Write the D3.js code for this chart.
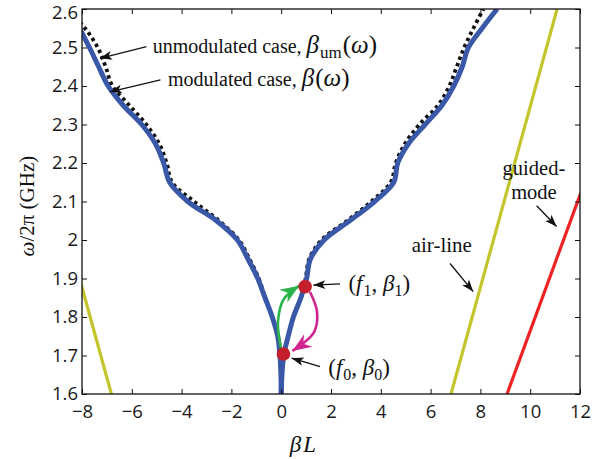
<!DOCTYPE html>
<html>
<head>
<meta charset="utf-8">
<script src="https://cdn.jsdelivr.net/npm/d3@7"></script>
<style>
  html, body { margin: 0; padding: 0; background: #fff; }
  svg { display: block; }
  .tick text { font-family: "Open Sans", sans-serif; font-size: 18.5px; fill: #1a1a1a; }
  .serif { font-family: "Liberation Serif", "DejaVu Serif", serif; fill: #111; }
</style>
</head>
<body>
<svg id="chart" width="608" height="459"></svg>
<script>
// Frequency samples (GHz) for the dispersion branches
const freq = [1.60, 1.65, 1.70, 1.75, 1.80, 1.85, 1.90, 1.95, 2.00, 2.05, 2.10,
              2.15, 2.20, 2.25, 2.30, 2.35, 2.40, 2.45, 2.50, 2.55, 2.60];

// Modulated case beta*L, negative and positive branches
const betaModLeft  = [0.00, -0.01, -0.05, -0.14, -0.36, -0.65, -0.94, -1.33, -1.76, -2.60, -3.75,
                      -4.48, -4.72, -5.05, -5.60, -6.35, -6.95, -7.33, -7.70, -8.10, -8.50];
const betaModRight = [0.00, 0.03, 0.10, 0.28, 0.49, 0.79, 1.02, 1.17, 1.72, 2.75, 3.75,
                      4.52, 4.68, 5.11, 5.78, 6.46, 6.93, 7.27, 7.52, 8.07, 8.67];

// Unmodulated case beta*L
const betaUmLeft   = [0.00, -0.01, -0.05, -0.14, -0.36, -0.65, -0.90, -1.27, -1.70, -2.50, -3.50,
                      -4.38, -4.60, -4.90, -5.42, -6.10, -6.78, -7.05, -7.37, -7.88, -8.60];
const betaUmRight  = [0.00, 0.03, 0.10, 0.28, 0.49, 0.79, 0.98, 1.12, 1.62, 2.65, 3.62,
                      4.40, 4.60, 4.97, 5.55, 6.30, 6.75, 7.05, 7.35, 7.72, 8.12];

// Straight lines: air-line and guided mode (beta*L at two frequencies)
const lineFreq   = [1.60, 2.60];
const airLine    = [6.82, 11.08];
const guidedLine = [9.07, 14.74];

// Operating points (beta*L, GHz)
const pointBeta = [0.09, 0.96];
const pointFreq = [1.704, 1.879];

// Axis ticks
const xTicks = [-8, -6, -4, -2, 0, 2, 4, 6, 8, 10, 12];
const yTicks = [1.6, 1.7, 1.8, 1.9, 2.0, 2.1, 2.2, 2.3, 2.4, 2.5, 2.6];

// Transition arrows between the operating points (beta*L, GHz)
const upArrow   = [[-0.01, 1.719], [-0.13, 1.787], [0.10, 1.846], [0.72, 1.881]];
const downArrow = [[1.16, 1.865], [1.44, 1.813], [1.32, 1.761], [0.45, 1.712]];

const svg = d3.select("#chart");
const L = 82, R = 580, T = 9, B = 394;
const x = d3.scaleLinear().domain([-8, 12]).range([L, R]);
const y = d3.scaleLinear().domain([1.6, 2.6]).range([B, T]);

const defs = svg.append("defs");
defs.append("clipPath").attr("id", "plot")
  .append("rect").attr("x", L).attr("y", T).attr("width", R - L).attr("height", B - T);

function marker(id, color, len, half, notch) {
  defs.append("marker")
    .attr("id", id)
    .attr("markerUnits", "userSpaceOnUse")
    .attr("viewBox", `${-len - 1} ${-half - 1} ${len + 2} ${2 * half + 2}`)
    .attr("markerWidth", len + 2).attr("markerHeight", 2 * half + 2)
    .attr("refX", 0).attr("refY", 0)
    .attr("orient", "auto")
    .append("path")
    .attr("d", `M0,0 L${-len},${-half} L${-len + notch},0 L${-len},${half} Z`)
    .attr("fill", color);
}
marker("headBlack", "#111", 12, 4.4, 3);
marker("headGreen", "#2cb34a", 19, 7.5, 6);
marker("headMagenta", "#d0258f", 19, 7.5, 6);

const zip = (bs) => bs.map((b, i) => ({ b, f: freq[i] }));
const line = d3.line().x(d => x(d.b)).y(d => y(d.f)).curve(d3.curveCatmullRom.alpha(0.5));

const plot = svg.append("g").attr("clip-path", "url(#plot)");

// Air-line (both signs) and guided mode
const straight = (bs) => bs.map((b, i) => ({ b, f: lineFreq[i] }));
plot.append("path").attr("d", line(straight(airLine)))
  .attr("stroke", "#c4c42c").attr("stroke-width", 3.2).attr("fill", "none");
plot.append("path").attr("d", line(straight(airLine.map(v => -v))))
  .attr("stroke", "#c4c42c").attr("stroke-width", 3.2).attr("fill", "none");
plot.append("path").attr("d", line(straight(guidedLine)))
  .attr("stroke", "#ef2324").attr("stroke-width", 3.2).attr("fill", "none");

// Unmodulated dispersion (dotted, underneath)
[betaUmLeft, betaUmRight].forEach(bs => {
  plot.append("path").attr("d", line(zip(bs)))
    .attr("stroke", "#111").attr("stroke-width", 3.8)
    .attr("stroke-dasharray", "3.4,3.4").attr("fill", "none");
});

// Modulated dispersion
[betaModLeft, betaModRight].forEach(bs => {
  plot.append("path").attr("d", line(zip(bs)))
    .attr("stroke", "#3a58a8").attr("stroke-width", 5).attr("fill", "none")
    .attr("stroke-linejoin", "round");
});

// Transition arrows
const arrowLine = d3.line().x(d => x(d[0])).y(d => y(d[1])).curve(d3.curveCatmullRom.alpha(0.5));
svg.append("path").attr("d", arrowLine(upArrow))
  .attr("stroke", "#2cb34a").attr("stroke-width", 2.6).attr("fill", "none")
  .attr("marker-end", "url(#headGreen)");
svg.append("path").attr("d", arrowLine(downArrow))
  .attr("stroke", "#d0258f").attr("stroke-width", 2.6).attr("fill", "none")
  .attr("marker-end", "url(#headMagenta)");

// Operating points
svg.selectAll("circle.pt").data(pointBeta).join("circle")
  .attr("class", "pt")
  .attr("cx", d => x(d)).attr("cy", (d, i) => y(pointFreq[i]))
  .attr("r", 6.8).attr("fill", "#c41f2b");

// Axes with inward ticks on all sides
const fmtY = d => String(+d.toFixed(1));
svg.append("g").attr("transform", `translate(0,${B})`)
  .call(d3.axisBottom(x).tickValues(xTicks).tickSizeInner(-5).tickSizeOuter(0).tickPadding(10.5));
const yAxis = svg.append("g").attr("transform", `translate(${L},0)`)
  .call(d3.axisLeft(y).tickValues(yTicks).tickFormat(fmtY).tickSizeInner(-5).tickSizeOuter(0).tickPadding(4));
// keep the top label inside the frame
yAxis.selectAll(".tick").filter(d => d === 2.6).select("text").attr("dy", "0.52em");
svg.append("g").attr("transform", `translate(0,${T})`)
  .call(d3.axisTop(x).tickValues(xTicks).tickFormat("").tickSizeInner(-5).tickSizeOuter(0));
svg.append("g").attr("transform", `translate(${R},0)`)
  .call(d3.axisRight(y).tickValues(yTicks).tickFormat("").tickSizeInner(-5).tickSizeOuter(0));
svg.selectAll(".domain").remove();
svg.selectAll(".tick line").attr("stroke", "#111").attr("stroke-width", 1);
svg.append("rect").attr("x", L).attr("y", T).attr("width", R - L).attr("height", B - T)
  .attr("fill", "none").attr("stroke", "#111").attr("stroke-width", 1.3);

// Axis titles
const xt = svg.append("text").attr("class", "serif")
  .attr("x", x(0.87)).attr("y", 452).attr("text-anchor", "middle").attr("font-size", 23);
xt.append("tspan").attr("font-style", "italic").text("β");
xt.append("tspan").attr("font-style", "italic").attr("dx", 2).text("L");

const yt = svg.append("text").attr("class", "serif")
  .attr("transform", `translate(34,${y(2.088)}) rotate(-90)`)
  .attr("text-anchor", "middle").attr("font-size", 21);
yt.append("tspan").attr("font-style", "italic").text("ω");
yt.append("tspan").text("/2π (GHz)");

// Annotations
function pointer(from, to) {
  svg.append("line")
    .attr("x1", x(from[0])).attr("y1", y(from[1]))
    .attr("x2", x(to[0])).attr("y2", y(to[1]))
    .attr("stroke", "#111").attr("stroke-width", 1.3)
    .attr("marker-end", "url(#headBlack)");
}

// parts: t = text, i = italic, m = math size, sub = subscript
function label(pos, parts, opts) {
  opts = opts || {};
  const base = opts.size || 20, math = opts.math || 25, sub = opts.sub || 17;
  const t = svg.append("text").attr("class", "serif")
    .attr("x", x(pos[0])).attr("y", y(pos[1])).attr("font-size", base)
    .attr("text-anchor", opts.anchor || "start");
  let lowered = false;
  parts.forEach(p => {
    const s = t.append("tspan").text(p.t);
    if (p.i) s.attr("font-style", "italic");
    if (p.m) s.attr("font-size", math);
    if (p.sub) {
      s.attr("font-size", sub).attr("dy", 5);
      lowered = true;
    } else if (lowered) {
      s.attr("dy", -5);
      lowered = false;
    }
    if (p.dx) s.attr("dx", p.dx);
  });
  return t;
}

pointer([-5.41, 2.502], [-7.28, 2.472]);
label([-5.16, 2.485], [
  { t: "unmodulated case, " }, { t: "β", i: true, m: true }, { t: "um", sub: true, dx: 1 },
  { t: "(", m: true, dx: 1 }, { t: "ω", i: true, m: true }, { t: ")", m: true }
]);

pointer([-4.85, 2.416], [-6.88, 2.385]);
label([-4.55, 2.400], [
  { t: "modulated case, " }, { t: "β", i: true, m: true }, { t: "(", m: true, dx: 1 },
  { t: "ω", i: true, m: true }, { t: ")", m: true }
]);

const fOpts = { math: 23, sub: 16 };
pointer([2.36, 1.886], [1.29, 1.883]);
label([2.70, 1.868], [
  { t: "(", m: true }, { t: "f", i: true, m: true }, { t: "1", sub: true, dx: 1 }, { t: ", ", m: true },
  { t: "β", i: true, m: true }, { t: "1", sub: true }, { t: ")", m: true }
], fOpts);

pointer([1.56, 1.671], [0.42, 1.693]);
label([1.89, 1.649], [
  { t: "(", m: true }, { t: "f", i: true, m: true }, { t: "0", sub: true, dx: 1 }, { t: ", ", m: true },
  { t: "β", i: true, m: true }, { t: "0", sub: true }, { t: ")", m: true }
], fOpts);

pointer([6.78, 1.939], [7.71, 1.866]);
label([5.24, 1.970], [{ t: "air-line" }], { size: 21 });

pointer([10.26, 2.089], [11.06, 2.035]);
label([10.15, 2.170], [{ t: "guided-" }], { anchor: "middle", size: 20.5 });
label([10.15, 2.107], [{ t: "mode" }], { anchor: "middle", size: 20.5 });
</script>
</body>
</html>
